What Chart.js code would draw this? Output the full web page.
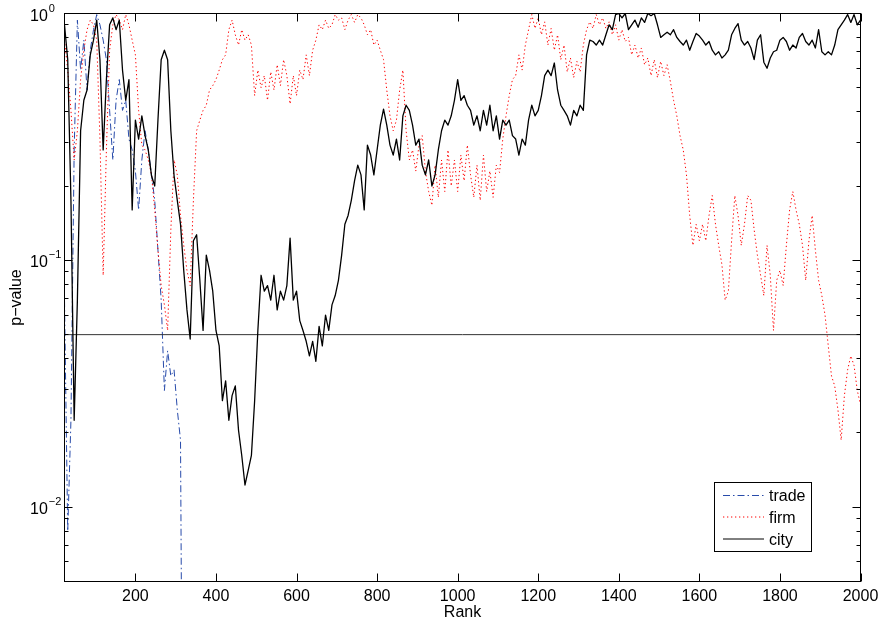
<!DOCTYPE html>
<html>
<head>
<meta charset="utf-8">
<title>p-value by rank</title>
<script src="https://cdn.jsdelivr.net/npm/chart.js@4.4.0/dist/chart.umd.min.js"></script>
<style>
  html, body { margin: 0; padding: 0; background: #fff; }
  canvas { display: block; }
</style>
</head>
<body>
<canvas id="c" width="881" height="626"></canvas>
<script>
// Rank axis: series are sampled every 8 ranks starting at rank 24
const rankMin = 24;
const rankMax = 2000;
const rankStep = 8;

// Axis ticks
const xTickValues = [200, 400, 600, 800, 1000, 1200, 1400, 1600, 1800, 2000];
const yDecadeExponents = [0, -1, -2];
const pMin = 0.005;
const pMax = 1;

// Significance level drawn as a horizontal reference line
const significance = 0.05;

// p-values per rank, trade (ends where it drops far below the axis)
const tradeP = [
  0.069, 0.008, 0.0225, 0.28, 0.94, 0.59, 0.78, 0.49, 0.71, 0.86,
  0.99, 0.90, 0.78, 0.65, 0.405, 0.255, 0.445, 0.54, 0.405, 0.445,
  0.31, 0.28, 0.23, 0.16, 0.255, 0.335, 0.28, 0.222, 0.175, 0.11,
  0.069, 0.0297, 0.043, 0.034, 0.036, 0.0248, 0.0187, 0.0001
];

// p-values per rank, firm
const firmP = [
  0.78, 0.59, 0.405, 0.255, 0.335, 0.54, 0.71, 0.86, 0.94, 0.90,
  0.78, 0.31, 0.087, 0.28, 0.71, 0.90, 0.99, 0.94, 0.86, 0.99,
  0.90, 0.78, 0.68, 0.405, 0.293, 0.28, 0.255, 0.222, 0.16, 0.11,
  0.079, 0.066, 0.052, 0.133, 0.255, 0.222, 0.152, 0.115, 0.091, 0.079,
  0.175, 0.335, 0.37, 0.405, 0.425, 0.49, 0.51, 0.54, 0.59, 0.65,
  0.68, 0.86, 0.94, 0.82, 0.745, 0.86, 0.78, 0.82, 0.745, 0.465,
  0.59, 0.50, 0.56, 0.445, 0.58, 0.49, 0.62, 0.51, 0.65, 0.56,
  0.43, 0.56, 0.465, 0.59, 0.54, 0.68, 0.56, 0.71, 0.78, 0.90,
  0.86, 0.94, 0.87, 0.90, 0.99, 0.94, 0.96, 0.86, 0.94, 0.99,
  0.92, 0.99, 0.96, 0.90, 0.82, 0.86, 0.745, 0.78, 0.71, 0.65,
  0.49, 0.385, 0.335, 0.37, 0.49, 0.59, 0.335, 0.255, 0.28, 0.23,
  0.293, 0.32, 0.23, 0.19, 0.167, 0.243, 0.18, 0.255, 0.19, 0.28,
  0.20, 0.255, 0.19, 0.267, 0.21, 0.293, 0.222, 0.18, 0.243, 0.175,
  0.267, 0.19, 0.23, 0.18, 0.243, 0.227, 0.31, 0.385, 0.465, 0.54,
  0.56, 0.68, 0.59, 0.745, 0.86, 0.99, 0.87, 0.96, 0.82, 0.925,
  0.745, 0.87, 0.71, 0.82, 0.65, 0.745, 0.58, 0.66, 0.55, 0.64,
  0.58, 0.745, 0.86, 0.925, 0.87, 0.99, 0.90, 0.96, 0.87, 0.925,
  0.82, 0.90, 0.78, 0.86, 0.77, 0.80, 0.68, 0.745, 0.66, 0.725,
  0.62, 0.66, 0.56, 0.65, 0.55, 0.64, 0.56, 0.62, 0.53, 0.445,
  0.385, 0.32, 0.28, 0.222, 0.152, 0.115, 0.14, 0.12, 0.14, 0.12,
  0.152, 0.183, 0.14, 0.115, 0.096, 0.069, 0.075, 0.12, 0.183, 0.152,
  0.115, 0.14, 0.183, 0.175, 0.133, 0.105, 0.087, 0.072, 0.115, 0.087,
  0.052, 0.083, 0.091, 0.079, 0.115, 0.16, 0.19, 0.16, 0.14, 0.115,
  0.083, 0.12, 0.152, 0.11, 0.083, 0.072, 0.06, 0.045, 0.034, 0.031,
  0.0248, 0.0187, 0.0283, 0.036, 0.041, 0.0375, 0.0297, 0.026
];

// p-values per rank, city
const cityP = [
  0.90, 0.65, 0.175, 0.0225, 0.069, 0.335, 0.445, 0.49, 0.68, 0.78,
  0.94, 0.65, 0.28, 0.54, 0.90, 0.96, 0.86, 0.94, 0.59, 0.445,
  0.54, 0.16, 0.37, 0.31, 0.385, 0.32, 0.28, 0.22, 0.20, 0.37,
  0.65, 0.71, 0.65, 0.335, 0.22, 0.175, 0.14, 0.091, 0.063, 0.048,
  0.12, 0.127, 0.083, 0.052, 0.105, 0.091, 0.075, 0.052, 0.045, 0.027,
  0.0325, 0.0225, 0.0283, 0.031, 0.0205, 0.0162, 0.0123, 0.0141, 0.0162, 0.027,
  0.052, 0.087, 0.075, 0.079, 0.069, 0.087, 0.063, 0.075, 0.069, 0.079,
  0.123, 0.069, 0.075, 0.057, 0.052, 0.047, 0.041, 0.047, 0.039, 0.054,
  0.045, 0.06, 0.052, 0.066, 0.072, 0.083, 0.105, 0.14, 0.152, 0.175,
  0.21, 0.243, 0.222, 0.16, 0.293, 0.267, 0.222, 0.28, 0.353, 0.41,
  0.353, 0.293, 0.267, 0.31, 0.255, 0.385, 0.425, 0.405, 0.353, 0.293,
  0.31, 0.243, 0.222, 0.255, 0.20, 0.222, 0.28, 0.335, 0.37, 0.353,
  0.385, 0.445, 0.54, 0.445, 0.465, 0.425, 0.405, 0.353, 0.385, 0.335,
  0.405, 0.353, 0.425, 0.335, 0.385, 0.31, 0.37, 0.353, 0.37, 0.32,
  0.31, 0.267, 0.31, 0.293, 0.37, 0.425, 0.385, 0.405, 0.465, 0.56,
  0.59, 0.56, 0.63, 0.49, 0.425, 0.405, 0.385, 0.353, 0.405, 0.385,
  0.425, 0.405, 0.68, 0.78, 0.77, 0.745, 0.78, 0.745, 0.82, 0.90,
  0.86, 0.99, 1.0, 0.96, 1.0, 0.86, 0.90, 0.94, 0.88, 0.96,
  0.92, 1.0, 0.98, 1.0, 0.90, 0.80, 0.82, 0.84, 0.82, 0.86,
  0.80, 0.77, 0.745, 0.78, 0.71, 0.77, 0.83, 0.81, 0.78, 0.745,
  0.77, 0.71, 0.68, 0.70, 0.66, 0.68, 0.71, 0.82, 0.87, 0.91,
  0.78, 0.745, 0.77, 0.725, 0.65, 0.78, 0.82, 0.635, 0.60, 0.66,
  0.70, 0.71, 0.78, 0.80, 0.77, 0.71, 0.745, 0.725, 0.80, 0.83,
  0.77, 0.745, 0.78, 0.725, 0.86, 0.70, 0.68, 0.70, 0.68, 0.745,
  0.86, 0.90, 0.94, 0.99, 0.92, 0.99, 0.90, 0.94
];

const FONT = '"Liberation Sans", Arial, Helvetica, sans-serif';
const INK = '#000';

const tradeStyle = { color: 'rgb(40,75,170)', dash: [7, 3, 1.5, 3], width: 1 };
const firmStyle  = { color: 'rgb(255,0,0)', dash: [1.3, 2.7], width: 1 };
const cityStyle  = { color: '#000', dash: [], width: 1.3 };

const toPoints = vals => vals.map((v, i) => ({ x: rankMin + i * rankStep, y: v }));

// Axes frame, inward ticks, tick labels, axis titles and legend
const axesDecor = {
  id: 'axesDecor',
  afterDatasetsDraw(chart) {
    const { ctx, chartArea: a } = chart;
    const xs = chart.scales.x, ys = chart.scales.y;
    ctx.save();
    ctx.strokeStyle = INK;
    ctx.lineWidth = 1;
    ctx.setLineDash([]);

    const seg = (x1, y1, x2, y2) => { ctx.beginPath(); ctx.moveTo(x1, y1); ctx.lineTo(x2, y2); ctx.stroke(); };

    // frame
    ctx.strokeRect(a.left, a.top, a.right - a.left, a.bottom - a.top);

    // x ticks (bottom and top, pointing inward)
    xTickValues.forEach(v => {
      const px = Math.round(xs.getPixelForValue(v)) + 0.5;
      seg(px, a.bottom, px, a.bottom - 8);
      seg(px, a.top, px, a.top + 8);
    });

    // y ticks: decades long, in-between values short
    const yTickAt = (v, len) => {
      const py = Math.round(ys.getPixelForValue(v) - 0.5) + 0.5;
      seg(a.left, py, a.left + len, py);
      seg(a.right, py, a.right - len, py);
    };
    for (let e = -3; e <= 0; e++) {
      const base = Math.pow(10, e);
      if (base >= pMin && base <= pMax) yTickAt(base, 8);
      for (let m = 2; m <= 9; m++) {
        const v = m * base;
        if (v >= pMin - 1e-12 && v < pMax) yTickAt(v, 4);
      }
    }

    // x tick labels
    ctx.fillStyle = INK;
    ctx.font = '16px ' + FONT;
    ctx.textAlign = 'center';
    ctx.textBaseline = 'alphabetic';
    xTickValues.forEach(v => {
      ctx.fillText(String(v), xs.getPixelForValue(v), 601);
    });

    // y tick labels as 10 with a raised exponent
    yDecadeExponents.forEach(e => {
      const py = ys.getPixelForValue(Math.pow(10, e));
      ctx.font = '16px ' + FONT;
      ctx.textAlign = 'left';
      ctx.fillText('10', 30, py + 7);
      const w = ctx.measureText('10').width;
      ctx.font = '11px ' + FONT;
      const sup = e < 0 ? '\u2212' + String(-e) : String(e);
      ctx.fillText(sup, 30 + w + 1, py - 2);
    });

    // axis titles
    ctx.font = '16px ' + FONT;
    ctx.textAlign = 'center';
    ctx.fillText('Rank', (a.left + a.right) / 2, 617);
    ctx.save();
    ctx.translate(21, (a.top + a.bottom) / 2);
    ctx.rotate(-Math.PI / 2);
    ctx.fillText('p\u2212value', 0, 0);
    ctx.restore();

    // legend
    const lx = 714.5, ly = 482.5, lw = 97, lh = 69;
    ctx.fillStyle = '#fff';
    ctx.fillRect(lx, ly, lw, lh);
    ctx.strokeStyle = INK;
    ctx.lineWidth = 1;
    ctx.strokeRect(lx, ly, lw, lh);
    const entries = [
      ['trade', tradeStyle, 495.5],
      ['firm', firmStyle, 517],
      ['city', cityStyle, 539]
    ];
    entries.forEach(([name, st, yy]) => {
      ctx.save();
      ctx.strokeStyle = st.color;
      ctx.lineWidth = Math.min(st.width, 1);
      ctx.setLineDash(st.dash);
      seg(723, yy, 764, yy);
      ctx.restore();
      ctx.fillStyle = INK;
      ctx.font = '16px ' + FONT;
      ctx.textAlign = 'left';
      ctx.fillText(name, 769, yy + 5.5);
    });

    ctx.restore();
  }
};

new Chart(document.getElementById('c'), {
  type: 'line',
  data: {
    datasets: [
      { label: 'trade', data: toPoints(tradeP), borderColor: tradeStyle.color,
        borderWidth: tradeStyle.width, borderDash: tradeStyle.dash, order: 3 },
      { label: 'firm', data: toPoints(firmP), borderColor: firmStyle.color,
        borderWidth: firmStyle.width, borderDash: firmStyle.dash, order: 2 },
      { label: 'city', data: toPoints(cityP), borderColor: cityStyle.color,
        borderWidth: cityStyle.width, borderJoinStyle: 'round', order: 0 },
      { label: 'p = 0.05', data: [{ x: rankMin, y: significance }, { x: rankMax, y: significance }],
        borderColor: '#333', borderWidth: 1, order: 1 }
    ]
  },
  options: {
    responsive: false,
    animation: false,
    devicePixelRatio: 1,
    layout: { padding: { left: 64.5, right: 20.5, top: 13.5, bottom: 44.5 } },
    elements: { point: { radius: 0 }, line: { tension: 0, fill: false } },
    plugins: { legend: { display: false }, tooltip: { enabled: false } },
    scales: {
      x: { type: 'linear', min: rankMin, max: rankMax, display: false },
      y: { type: 'logarithmic', min: pMin, max: pMax, display: false }
    }
  },
  plugins: [axesDecor]
});
</script>
</body>
</html>
